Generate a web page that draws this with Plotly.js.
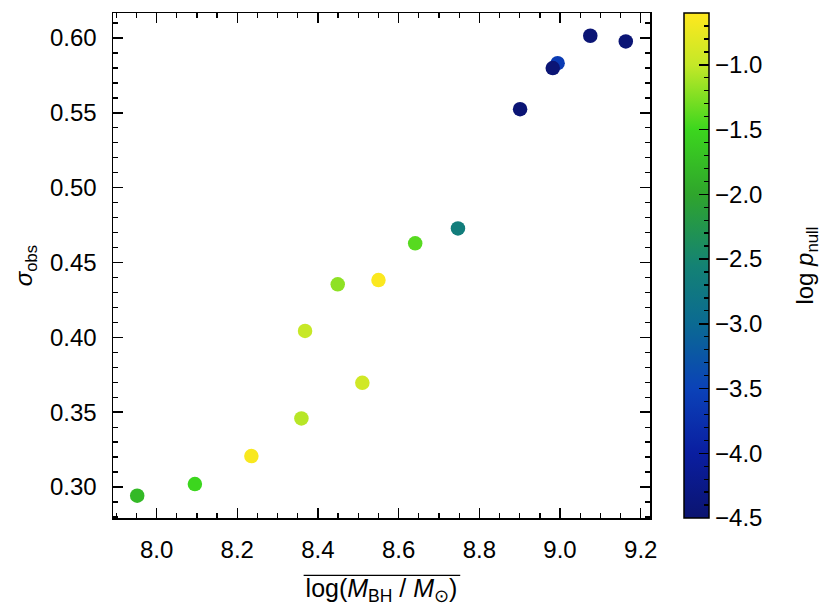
<!DOCTYPE html>
<html>
<head>
<meta charset="utf-8">
<script src="https://cdn.plot.ly/plotly-3.0.1.min.js"></script>
<style>
html, body { margin: 0; padding: 0; background: #fff; }
#chart { width: 831px; height: 613px; }
</style>
</head>
<body>
<div id="chart"></div>
<script>
/* values */
var logMbh   = [7.952, 8.095, 8.235, 8.359, 8.368, 8.449, 8.510, 8.550, 8.641, 8.747, 8.901, 8.994, 8.982, 9.075, 9.163];
var sigmaObs = [0.2942, 0.3020, 0.3207, 0.3458, 0.4043, 0.4354, 0.3696, 0.4383, 0.4628, 0.4728, 0.5524, 0.5832, 0.5799, 0.6015, 0.5977];
var logPnull = [-1.8, -1.5, -0.65, -1.05, -0.98, -1.2, -0.92, -0.63, -1.4, -2.65, -4.45, -3.6, -4.45, -4.45, -4.45];

var cmin = -4.5, cmax = -0.6;
var cscale = [
  [0.000, '#0b1470'],
  [0.128, '#0a1ea0'],
  [0.256, '#0b42b8'],
  [0.385, '#0b6a92'],
  [0.500, '#148274'],
  [0.641, '#2fa52c'],
  [0.769, '#3cd61e'],
  [0.897, '#c4e828'],
  [1.000, '#ffe81e']
];
var clear = [[0, 'rgba(0,0,0,0)'], [1, 'rgba(0,0,0,0)']];

var fnt = {family: 'Liberation Sans, Arial, sans-serif', size: 24, color: '#000'};
var fntT = {family: 'Liberation Sans, Arial, sans-serif', size: 25, color: '#000'};

/* real points, colour bar carries the minor ticks */
var pts = {
  x: logMbh, y: sigmaObs,
  type: 'scatter', mode: 'markers',
  marker: {
    size: 14.5, color: logPnull, colorscale: cscale, cmin: cmin, cmax: cmax,
    line: {width: 0},
    showscale: true,
    colorbar: {
      x: 1.0624, xanchor: 'left', y: 0.5, yanchor: 'middle', len: 1,
      thickness: 24.5, xpad: 0, ypad: 0, outlinewidth: 0,
      ticks: 'inside', ticklen: 5, tickwidth: 1.3, tickcolor: '#000',
      tick0: -4.5, dtick: 0.1, showticklabels: false
    }
  },
  hoverinfo: 'x+y'
};

/* same points again, transparent, for the labelled colour bar */
var scale = {
  x: logMbh, y: sigmaObs,
  type: 'scatter', mode: 'markers',
  marker: {
    size: 14.5, color: logPnull, colorscale: clear, cmin: cmin, cmax: cmax,
    showscale: true,
    colorbar: {
      x: 1.0624, xanchor: 'left', y: 0.5, yanchor: 'middle', len: 1,
      thickness: 24.5, xpad: 0, ypad: 0,
      outlinewidth: 1.5, outlinecolor: '#000',
      ticks: 'inside', ticklen: 10, tickwidth: 1.5, tickcolor: '#000',
      tick0: -4.5, dtick: 0.5, tickformat: '.1f',
      tickfont: fnt
    }
  },
  hoverinfo: 'skip'
};

var layout = {
  width: 831, height: 613,
  margin: {l: 113.3, r: 181, t: 13.3, b: 95.3},
  paper_bgcolor: '#fff', plot_bgcolor: '#fff',
  showlegend: false,
  font: fnt,
  xaxis: {
    range: [7.892, 9.223], autorange: false,
    showline: true, linecolor: '#000', linewidth: 1.5, mirror: 'allticks',
    showgrid: false, zeroline: false,
    ticks: 'inside', ticklen: 10, tickwidth: 1.5, tickcolor: '#000',
    tick0: 8.0, dtick: 0.2, tickformat: '.1f', tickfont: fnt,
    ticklabelstandoff: 10,
    minor: {ticks: 'inside', ticklen: 5, tickwidth: 1.3, tickcolor: '#000', dtick: 0.05, showgrid: false},
    title: {text: 'log(<i>M</i><sub>BH</sub> / <i>M</i><sub>⊙</sub>)', font: fntT, standoff: 17}
  },
  yaxis: {
    range: [0.2793, 0.6167], autorange: false,
    showline: true, linecolor: '#000', linewidth: 1.5, mirror: 'allticks',
    showgrid: false, zeroline: false,
    ticks: 'inside', ticklen: 10, tickwidth: 1.5, tickcolor: '#000',
    tick0: 0.3, dtick: 0.05, tickformat: '.2f', tickfont: fnt,
    ticklabelstandoff: 10,
    minor: {ticks: 'inside', ticklen: 5, tickwidth: 1.3, tickcolor: '#000', dtick: 0.01, showgrid: false},
    title: {text: '<i>σ</i><sub>obs</sub>', font: fnt, standoff: 10}
  },
  annotations: [{
    text: 'log <i>p</i><sub>null</sub>', font: fnt,
    xref: 'paper', yref: 'paper', x: 1.2907, y: 0.5,
    xanchor: 'center', yanchor: 'middle', textangle: -90, showarrow: false
  }],
  shapes: [{
    type: 'line', xref: 'paper', yref: 'paper',
    x0: 0.355, x1: 0.6466, y0: -0.1135, y1: -0.1135,
    line: {color: '#000', width: 1.3}
  }]
};

Plotly.newPlot('chart', [pts, scale], layout, {displayModeBar: false, staticPlot: true});
</script>
</body>
</html>
